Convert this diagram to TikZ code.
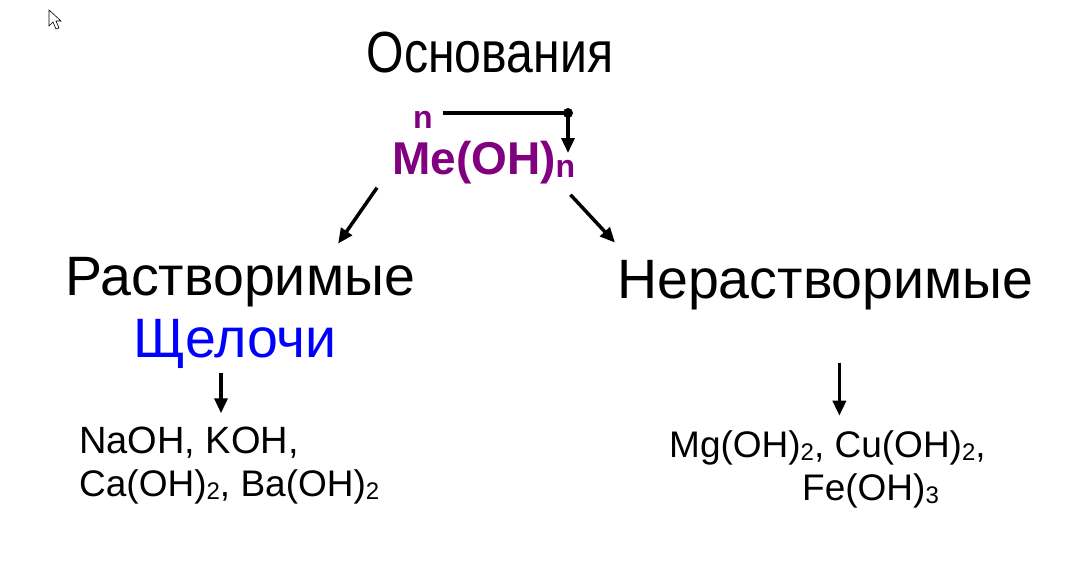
\documentclass[tikz,border=0pt]{standalone}
\usepackage{fontspec}
\setmainfont{Liberation Sans}
\newfontfamily\narrowfont{Liberation Sans}[FakeStretch=0.83]
\usetikzlibrary{arrows.meta}
\definecolor{mepurple}{RGB}{128,0,128}
\newcommand{\chemsub}[1]{\raisebox{-3pt}{\fontsize{24}{24}\selectfont #1}}

\begin{document}
\begin{tikzpicture}[x=1pt,y=-1pt,
        txt/.style={inner sep=0pt,anchor=base west},
        arr/.style={line width=3.5pt,-{Triangle[length=15pt,width=13pt]}}]
        \useasboundingbox (0,0) rectangle (1077,570);
        % mouse pointer
        \draw[line width=0.6pt,fill=white] (49,10) -- (49,26) -- (53,22) -- (56,29) -- (59,28) -- (56,21) -- (61,21) -- cycle;
        % top
        \node[inner sep=0pt,anchor=base] (title) at (490,72) {\fontsize{58}{58}\narrowfont Основания};
        \node[txt,text=mepurple,font=\bfseries] (me) at (392,174) {\fontsize{46}{46}\selectfont Me(OH)\raisebox{-3pt}{\fontsize{32}{32}\selectfont n}};
        \node[txt,text=mepurple,font=\bfseries] (nsup) at (413,128) {\fontsize{32}{32}\selectfont n};
        \coordinate (dot) at (568,113);
        \draw[line width=3.5pt] ([xshift=10pt]nsup.north east |- dot) -- (dot);
        \fill (dot) circle (5pt);
        \draw[arr] (dot) -- ++(0,40);
        % two groups
        \node[txt] (sol) at (65,295) {\fontsize{55.5}{55.5}\selectfont Растворимые};
        \node[txt,text=blue] (alk) at (133,357) {\fontsize{55.5}{55.5}\selectfont Щелочи};
        \node[txt] (insol) at (617,298) {\fontsize{55.5}{55.5}\selectfont Нерастворимые};
        \draw[arr] ([shift={(-15,4)}]me.south west) -- ([shift={(-77,-13)}]sol.north east);
        \draw[arr] ([shift={(-5,11)}]me.south east) -- ([shift={(-2,-17)}]insol.north west);
        % examples
        \node[txt] (alkA) at (79,453) {\fontsize{38}{38}\selectfont NaOH, KOH,};
        \node[txt] (alkB) at (79,496) {\fontsize{37}{37}\selectfont Ca(OH)\chemsub2, Ba(OH)\chemsub2};
        \node[txt] (insA) at (669,457) {\fontsize{37}{37}\selectfont Mg(OH)\chemsub2, Cu(OH)\chemsub2,};
        \node[txt] (insB) at (802,500) {\fontsize{37}{37}\selectfont Fe(OH)\chemsub3};
        \draw[arr] ([shift={(-14,5)}]alk.south) -- ++(0,40);
        \coordinate (down) at ([shift={(14,53)}]insol.south);
        \draw[arr] (down) -- ++(0,53);
\end{tikzpicture}
\end{document}
